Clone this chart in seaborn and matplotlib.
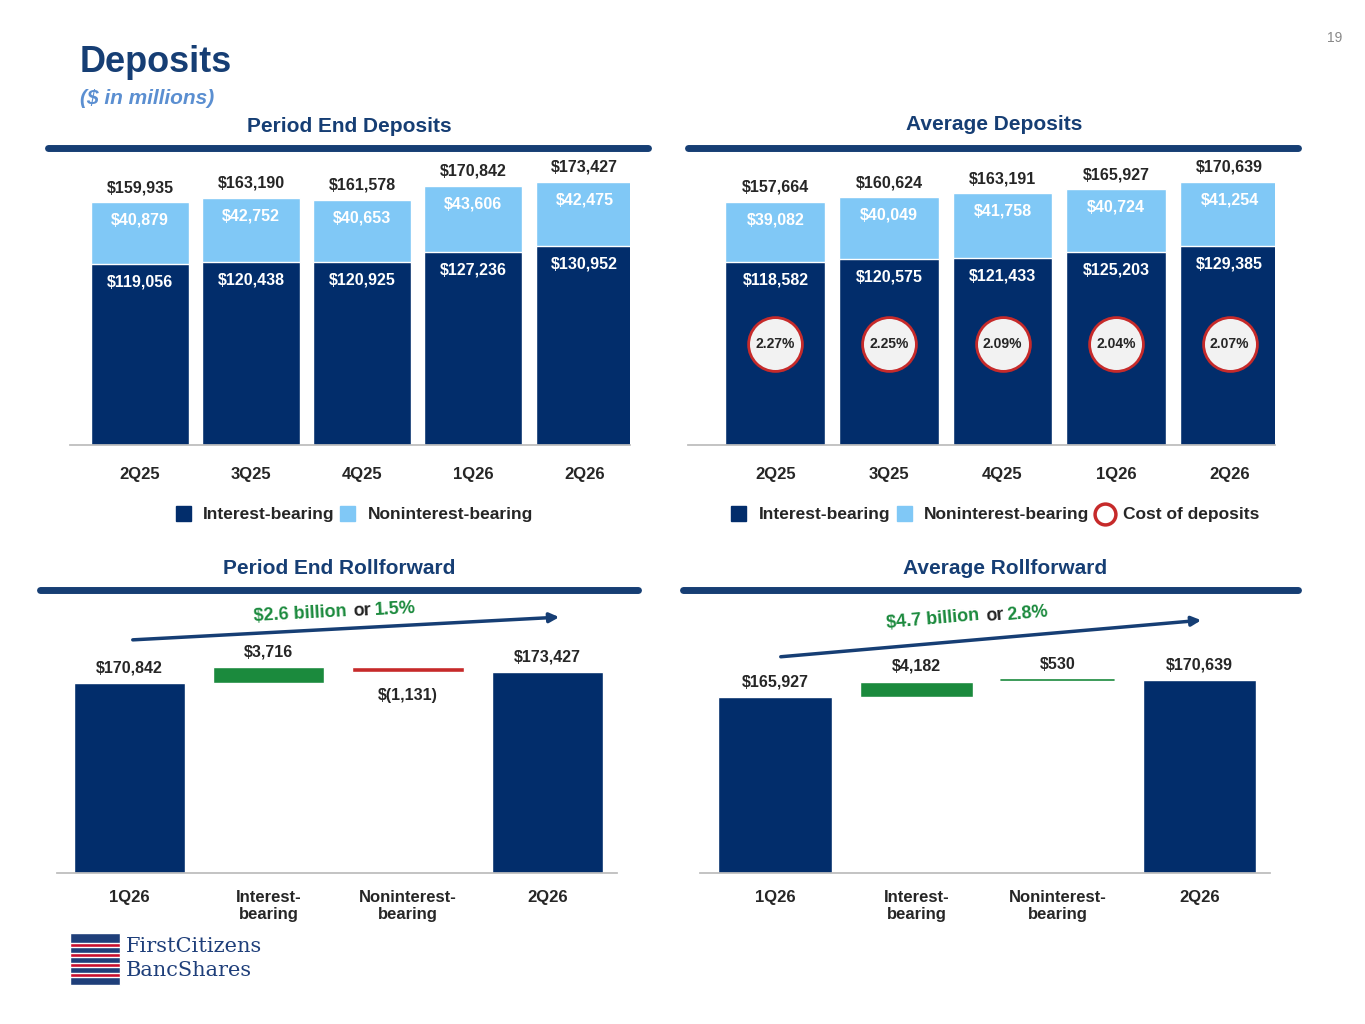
import numpy as np
import pandas as pd
import matplotlib
matplotlib.use('Agg')
import matplotlib.pyplot as plt
from matplotlib.patches import Rectangle
import seaborn as sns

sns.set_theme(style='white')
plt.rcParams['font.family'] = ['Liberation Sans', 'DejaVu Sans']

NAVY = '#022d6b'
LIGHT = '#80c8f6'
GREEN = '#1b8a3d'
RED = '#c62a2a'
TITLE = '#163e74'

quarters = ['2Q25', '3Q25', '4Q25', '1Q26', '2Q26']
pe_interest = [119056, 120438, 120925, 127236, 130952]
pe_nonint = [40879, 42752, 40653, 43606, 42475]
pe_total = [159935, 163190, 161578, 170842, 173427]
avg_interest = [118582, 120575, 121433, 125203, 129385]
avg_nonint = [39082, 40049, 41758, 40724, 41254]
avg_total = [157664, 160624, 163191, 165927, 170639]
cost_of_deposits = ['2.27%', '2.25%', '2.09%', '2.04%', '2.07%']

roll_labels = ['1Q26', 'Interest-\nbearing', 'Noninterest-\nbearing', '2Q26']
pe_roll = [170842, 3716, -1131, 173427]
pe_roll_text = ['$170,842', '$3,716', '$(1,131)', '$173,427']
avg_roll = [165927, 4182, 530, 170639]
avg_roll_text = ['$165,927', '$4,182', '$530', '$170,639']

W, H = 1365, 1024
fig = plt.figure(figsize=(W / 100, H / 100), dpi=100)


def px_axes(x0, y0, x1, y1):
    return fig.add_axes([x0 / W, 1 - y1 / H, (x1 - x0) / W, (y1 - y0) / H])


def ftext(x, y, s, **kw):
    fig.text(x / W, 1 - y / H, s, **kw)


def hline(x0, x1, y, color, lw):
    fig.add_artist(plt.Line2D([x0 / W, x1 / W], [1 - y / H, 1 - y / H], color=color, lw=lw))


def fmt(v):
    return f'${v:,}'


# header
ftext(80, 62, 'Deposits', fontsize=26, fontweight='bold', color=TITLE, va='center')
ftext(80, 98, '($ in millions)', fontsize=15, fontweight='bold', style='italic', color='#5b8fd1', va='center')
ftext(1342, 38, '19', fontsize=10, color='#888888', ha='right', va='center')

for x, y, s in [(349, 126, 'Period End Deposits'), (994, 125, 'Average Deposits'),
                (339, 568, 'Period End Rollforward'), (1005, 568, 'Average Rollforward')]:
    ftext(x, y, s, fontsize=15, fontweight='bold', color=TITLE, ha='center', va='center')
hline(48, 648, 148, TITLE, 5)
hline(688, 1298, 148, TITLE, 5)
hline(40, 638, 590, TITLE, 5)
hline(683, 1298, 590, TITLE, 5)


def stacked(ax, interest, nonint, total, ytop, xlim, circles=None):
    df = pd.DataFrame({'q': quarters, 'total': total, 'interest': interest})
    sns.barplot(data=df, x='q', y='total', color=LIGHT, width=0.88, saturation=1, ax=ax)
    sns.barplot(data=df, x='q', y='interest', color=NAVY, width=0.88, saturation=1, ax=ax)
    ax.set_ylim(0, ytop)
    ax.set_xlim(*xlim)
    ax.set_xlabel('')
    ax.set_ylabel('')
    ax.set_yticks([])
    ax.tick_params(axis='x', length=0, pad=16, labelsize=12)
    for t in ax.get_xticklabels():
        t.set_fontweight('bold')
    for s in ['top', 'left', 'right']:
        ax.spines[s].set_visible(False)
    ax.spines['bottom'].set_color('#bbbbbb')
    per_px = ytop / 295
    for i in range(5):
        ax.text(i, total[i] + 7 * per_px, fmt(total[i]), ha='center', va='bottom', fontsize=11.5, fontweight='bold')
        ax.text(i, total[i] - 18 * per_px, fmt(nonint[i]), ha='center', va='center', fontsize=11.5, fontweight='bold', color='white')
        ax.text(i, interest[i] - 18 * per_px, fmt(interest[i]), ha='center', va='center', fontsize=11.5, fontweight='bold', color='white')
        if circles:
            ax.scatter([i], [(445 - 344) * per_px], s=1500, color='#f2f2f2', edgecolor=RED, linewidth=2, zorder=5)
            ax.text(i, (445 - 344) * per_px, circles[i], ha='center', va='center', fontsize=10, fontweight='bold', zorder=6)


ax1 = px_axes(70, 150, 630, 445)
stacked(ax1, pe_interest, pe_nonint, pe_total, 295 * 173427 / 263, (-0.63, 4.41))
ax2 = px_axes(688, 150, 1275, 445)
stacked(ax2, avg_interest, avg_nonint, avg_total, 295 * 170639 / 263, (-0.77, 4.4), cost_of_deposits)

# legends
for sx, tx, c, s in [(176, 203, NAVY, 'Interest-bearing'), (340, 368, LIGHT, 'Noninterest-bearing'),
                     (731, 759, NAVY, 'Interest-bearing'), (897, 924, LIGHT, 'Noninterest-bearing')]:
    fig.add_artist(Rectangle((sx / W, 1 - 521 / H), 15 / W, 15 / H, color=c))
    ftext(tx, 514, s, fontsize=12.5, fontweight='bold', va='center')
fig.add_artist(plt.Line2D([1105 / W], [1 - 514 / H], marker='o', markersize=15, markerfacecolor='white',
                          markeredgecolor=RED, markeredgewidth=2.5))
ftext(1123, 514, 'Cost of deposits', fontsize=12.5, fontweight='bold', va='center')


def waterfall(ax, vals, texts, ybot, ytop, xlim):
    x = np.arange(4)
    cum = vals[0]
    for i, v in enumerate(vals):
        if i in (0, 3):
            ax.bar(i, v - ybot, bottom=ybot, width=0.8, color=NAVY)
            top = v
        else:
            b = cum if v > 0 else cum + v
            h = abs(v)
            col = GREEN if v > 0 else RED
            if abs(v) < 700 and v > 0:
                ax.plot([i - 0.4, i + 0.4], [cum + v, cum + v], color=GREEN, lw=1.2)
            else:
                ax.bar(i, h, bottom=b, width=0.8, color=col)
            top = max(cum, cum + v)
            cum += v
        per_px = (ytop - ybot) / 283
        if vals[i] < 0:
            ax.text(i, cum - 16 * per_px, texts[i], ha='center', va='top', fontsize=11.5, fontweight='bold')
        else:
            ax.text(i, top + 8 * per_px, texts[i], ha='center', va='bottom', fontsize=11.5, fontweight='bold')
    ax.set_ylim(ybot, ytop)
    ax.set_xlim(*xlim)
    ax.set_xticks(x)
    ax.set_xticklabels(roll_labels, fontweight='bold', fontsize=12)
    ax.tick_params(axis='x', length=0, pad=12)
    ax.set_yticks([])
    for s in ['top', 'left', 'right']:
        ax.spines[s].set_visible(False)
    ax.spines['bottom'].set_color('#bbbbbb')


ax3 = px_axes(57, 590, 617, 873)
waterfall(ax3, pe_roll, pe_roll_text, 126200, 126200 + 283 / 0.004255, (-0.52, 3.5))
ax4 = px_axes(700, 590, 1270, 873)
waterfall(ax4, avg_roll, avg_roll_text, 117150, 117150 + 283 / 0.003608, (-0.53, 3.5))

# growth arrows
for (x0, y0, x1, y1), (tx, ty, big, pct, rot) in [((130, 640, 562, 617), (345, 612, '$2.6 billion', '1.5%', 3)),
                                                  ((778, 657, 1204, 620), (978, 617, '$4.7 billion', '2.8%', 5))]:
    fig.add_artist(matplotlib.patches.FancyArrowPatch((x0 / W, 1 - y0 / H), (x1 / W, 1 - y1 / H),
                                                      transform=fig.transFigure, arrowstyle='-|>',
                                                      mutation_scale=14, color=TITLE, lw=2.5))
    ftext(tx - 45, ty + 2, big, fontsize=13, fontweight='bold', color=GREEN, ha='center', va='center', rotation=rot)
    ftext(tx + 17, ty - 1, 'or', fontsize=13, fontweight='bold', color='#222222', ha='center', va='center', rotation=rot)
    ftext(tx + 50, ty - 3, pct, fontsize=13, fontweight='bold', color=GREEN, ha='center', va='center', rotation=rot)

# logo
fig.add_artist(Rectangle((70 / W, 1 - 985 / H), 50 / W, 52 / H, facecolor='#1f3f7a'))
for k in range(4):
    fig.add_artist(Rectangle((70 / W, 1 - (947 + k * 10) / H), 50 / W, 4 / H, facecolor='#c8102e'))
ftext(126, 946, 'FirstCitizens', fontsize=15, family='DejaVu Serif', color='#1f3f7a', va='center')
ftext(126, 971, 'BancShares', fontsize=15, family='DejaVu Serif', color='#1f3f7a', va='center')

fig.savefig('out.png', dpi=100)
